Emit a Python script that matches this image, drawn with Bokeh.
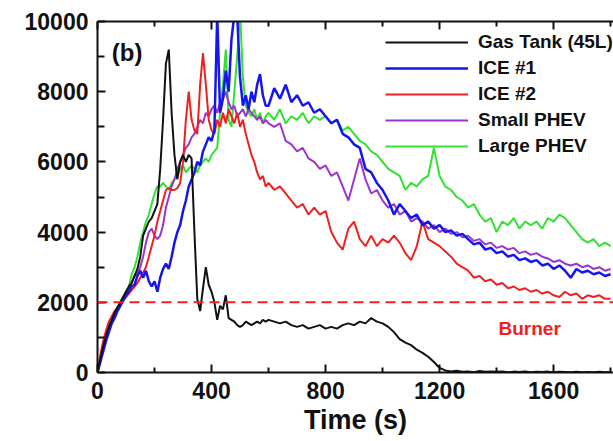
from bokeh.plotting import figure
from bokeh.models import Range1d, LinearAxis, Legend, LegendItem, Span, Label, FixedTicker
from bokeh.embed import file_html
from bokeh.resources import INLINE

# time grid (s)
time_s = list(range(0, 600, 10)) + list(range(600, 1801, 20))

gas_tank = [
    0, 400, 750, 1050, 1300, 1500, 1700, 1850, 2000, 2150,
    2300, 2450, 2550, 2750, 2950, 3300, 3900, 4100, 4300, 4400,
    4600, 4800, 5800, 7200, 8800, 9200, 7400, 6200, 5500, 6000,
    6200, 6000, 6200, 6100, 4000, 2100, 1750, 2400, 3000, 2500,
    2300, 2000, 1500, 1900, 1800, 2200, 1550, 1500, 1450, 1350,
    1300, 1350, 1450, 1400, 1350, 1400, 1450, 1400, 1500, 1450,
    1500, 1450, 1400, 1450, 1350, 1300, 1350, 1250, 1300, 1350,
    1250, 1300, 1250, 1350, 1400, 1350, 1450, 1400, 1550, 1450,
    1400, 1300, 1150, 950, 850, 780, 650, 560, 450, 300,
    130, 60, 30, 50, 20, 30, 10, 40, 20, 30,
    20, 30, 10, 25, 15, 30, 10, 20, 15, 25,
    10, 20, 15, 10, 20, 10, 15, 10, 20, 10, 15,
]

ice1 = [
    0, 300, 600, 900, 1150, 1400, 1550, 1750, 1900, 2050,
    2200, 2300, 2450, 2500, 2750, 2900, 2700, 2900, 2600, 2450,
    2600, 2300, 2700, 2950, 3100, 2950, 3300, 3700, 4000, 4200,
    4600, 4900, 5300, 5500, 5700, 6000, 5900, 6300, 6500, 6700,
    6600, 6900, 10200, 7400, 7800, 8600, 8000, 9500, 10200, 10200,
    8400, 7600, 7900, 7500, 8000, 7700, 8200, 8500, 7900, 7600,
    7600, 8100, 7800, 8200, 7700, 7900, 7600, 7700, 7400, 7500,
    7300, 7100, 7200, 6800, 6700, 6500, 6400, 5800, 5700, 5400,
    5200, 4900, 4500, 4800, 4600, 4400, 4500, 4200, 4300, 4100,
    4200, 4000, 4050, 3900, 3950, 3800, 3650, 3700, 3500, 3550,
    3400, 3450, 3300, 3350, 3200, 3250, 3150, 3200, 3050, 3100,
    2950, 3050, 2900, 2700, 2950, 2850, 2900, 2800, 2850, 2750, 2800,
]

ice2 = [
    0, 500, 900, 1200, 1450, 1600, 1750, 1850, 1950, 2050,
    2150, 2250, 2350, 2450, 2550, 2700, 2850, 3000, 3300, 3600,
    3900, 4300, 4600, 4900, 5200, 5250, 5200, 5200, 5250, 5400,
    6000, 7200, 8000, 7200, 6900, 6800, 8200, 9100, 8200, 7200,
    6900, 6800, 7200, 7000, 7400, 7100, 7500, 7300, 7100, 7400,
    7000, 7200, 6800, 6500, 6200, 6000, 5700, 5500, 5600, 5300,
    5400, 5200, 5300, 5100, 4900, 4700, 4800, 4500, 4700, 4500,
    4600, 4000, 3700, 3500, 4100, 4300, 3800, 3600, 3900, 3600,
    3800, 3700, 3900, 3700, 3400, 3200, 3600, 4300, 3800, 3700,
    3600, 3450, 3300, 3100, 3000, 2900, 2700, 2750, 2600, 2650,
    2500, 2550, 2400, 2450, 2350, 2400, 2300, 2350, 2250, 2300,
    2200, 2150, 2300, 2200, 2250, 2100, 2200, 2150, 2200, 2100, 2100,
]

small_phev = [
    0, 350, 700, 1000, 1250, 1450, 1650, 1800, 1950, 2100,
    2250, 2400, 2550, 2750, 2800, 3000, 3300, 3700, 4000, 4100,
    3900, 3800, 3900, 4200, 4700, 5000, 5300, 5500, 5800, 6000,
    6200, 6400, 6500, 6700, 6800, 7000, 7200, 7100, 7400, 7300,
    7500, 7600, 7400, 7700, 7800, 8000, 7700, 7500, 7600, 7300,
    7400, 7500, 7300, 7500, 7400, 7300, 7200, 7300, 7100, 7200,
    7100, 7000, 7100, 6600, 6500, 6300, 6400, 6100, 6000, 5800,
    5900, 5600, 5700, 5300, 4900, 5500, 6100, 5500, 5100, 5200,
    4900, 4700, 4800, 4500, 4600, 4300, 4400, 4300, 4100, 4200,
    4000, 4100, 3950, 4000, 3850, 3900, 3750, 3800, 3650, 3700,
    3550, 3600, 3500, 3550, 3400, 3450, 3350, 3400, 3300, 3250,
    3150, 3200, 3100, 3050, 3100, 3000, 3050, 2950, 3000, 2900, 2950,
]

large_phev = [
    0, 350, 700, 1000, 1200, 1450, 1650, 1850, 2000, 2150,
    2300, 2450, 2800, 3000, 3300, 3700, 4000, 4300, 4500, 4800,
    5100, 5300, 5300, 5400, 5300, 5200, 5400, 5500, 5600, 5800,
    5900, 5700, 5800, 5900, 5800, 5700, 5900, 6000, 6100, 6000,
    6200, 6300, 6400, 7400, 8200, 9200, 7200, 7000, 8000, 9000,
    10300, 8400, 7600, 7400, 7300, 7500, 7200, 7400, 7100, 7300,
    7400, 7200, 7500, 7100, 7300, 7200, 7400, 7100, 7300, 7200,
    7300, 7100, 7200, 6900, 7000, 6800, 6600, 6500, 6300, 6200,
    6000, 5800, 5700, 5600, 5200, 5400, 5300, 5500, 5600, 6400,
    5600, 5300, 5200, 5000, 4900, 4700, 4800, 4500, 4300, 4400,
    4000, 4300, 4200, 4400, 4100, 4300, 4200, 4300, 4100, 4400,
    4300, 4500, 4400, 4200, 4000, 3800, 3700, 3800, 3600, 3700, 3600,
]

burner_level = 2000
x_ticks = [0, 400, 800, 1200, 1600]
x_minor = [200, 600, 1000, 1400, 1800]
y_ticks = [0, 2000, 4000, 6000, 8000, 10000]
y_minor = [1000, 3000, 5000, 7000, 9000]
series_names = ["Gas Tank (45L)", "ICE #1", "ICE #2", "Small PHEV", "Large PHEV"]

FONT = "Liberation Sans"

p = figure(width=613, height=441, output_backend="svg", toolbar_location=None,
           x_range=Range1d(0, 1810), y_range=Range1d(0, 10000),
           min_border_left=97, min_border_right=0, min_border_top=21, min_border_bottom=69)
p.outline_line_color = None
p.xgrid.visible = False
p.ygrid.visible = False
p.background_fill_color = "white"
p.border_fill_color = "white"

r_green = p.line(time_s, large_phev, line_color="#33e033", line_width=2)
r_purple = p.line(time_s, small_phev, line_color="#9b35cf", line_width=2)
r_red = p.line(time_s, ice2, line_color="#f02020", line_width=2)
r_blue = p.line(time_s, ice1, line_color="#1515f0", line_width=2.5)
r_black = p.line(time_s, gas_tank, line_color="#111111", line_width=2)

p.add_layout(Span(location=burner_level, dimension="width", line_color="#f02020",
                  line_width=2, line_dash="10 6"))

def style_axis(ax, ticks, minor, show_labels=True):
    ax.ticker = FixedTicker(ticks=ticks, minor_ticks=minor)
    ax.axis_line_width = 2
    ax.axis_line_color = "#111111"
    ax.major_tick_in = 8
    ax.major_tick_out = 0
    ax.minor_tick_in = 5
    ax.minor_tick_out = 0
    ax.major_tick_line_width = 2
    ax.minor_tick_line_width = 2
    ax.major_tick_line_color = "#111111"
    ax.minor_tick_line_color = "#111111"
    if show_labels:
        ax.major_label_text_font = FONT
        ax.major_label_text_font_size = "23px"
        ax.major_label_text_font_style = "bold"
        ax.major_label_text_color = "#111111"
    else:
        ax.major_label_text_font_size = "1px"
        ax.major_label_text_color = None
        ax.major_label_standoff = 0

style_axis(p.xaxis[0], x_ticks, x_minor)
style_axis(p.yaxis[0], y_ticks, y_minor)
p.yaxis[0].minor_tick_in = 7
p.xaxis[0].major_label_standoff = 9
p.yaxis[0].major_label_standoff = 9
p.xaxis[0].axis_label = "Time (s)"
p.xaxis[0].axis_label_text_font = FONT
p.xaxis[0].axis_label_text_font_size = "27px"
p.xaxis[0].axis_label_text_font_style = "bold"
p.xaxis[0].axis_label_text_color = "#111111"
p.xaxis[0].axis_label_standoff = 3

top_axis = LinearAxis()
style_axis(top_axis, x_ticks, x_minor, show_labels=False)
p.add_layout(top_axis, "above")

items = [LegendItem(label=n, renderers=[r]) for n, r in
         zip(series_names, [r_black, r_blue, r_red, r_purple, r_green])]
legend = Legend(items=items, location=(288, 215), label_text_font=FONT,
                label_text_font_size="19px", label_text_font_style="bold",
                label_text_color="#111111", glyph_width=83, glyph_height=20,
                label_height=20, spacing=4, padding=0, margin=0, label_standoff=10,
                border_line_color=None, background_fill_alpha=0)
p.add_layout(legend)

p.add_layout(Label(x=50, y=9130, text="(b)", text_font=FONT, text_font_size="24px",
                   text_font_style="bold", text_color="#111111", text_baseline="middle"))
p.add_layout(Label(x=1516, y=1250, text="Burner", text_font=FONT, text_font_size="19px",
                   text_font_style="bold", text_color="#f02020", text_align="center",
                   text_baseline="middle"))

open("out.html", "w").write(file_html(p, INLINE))
